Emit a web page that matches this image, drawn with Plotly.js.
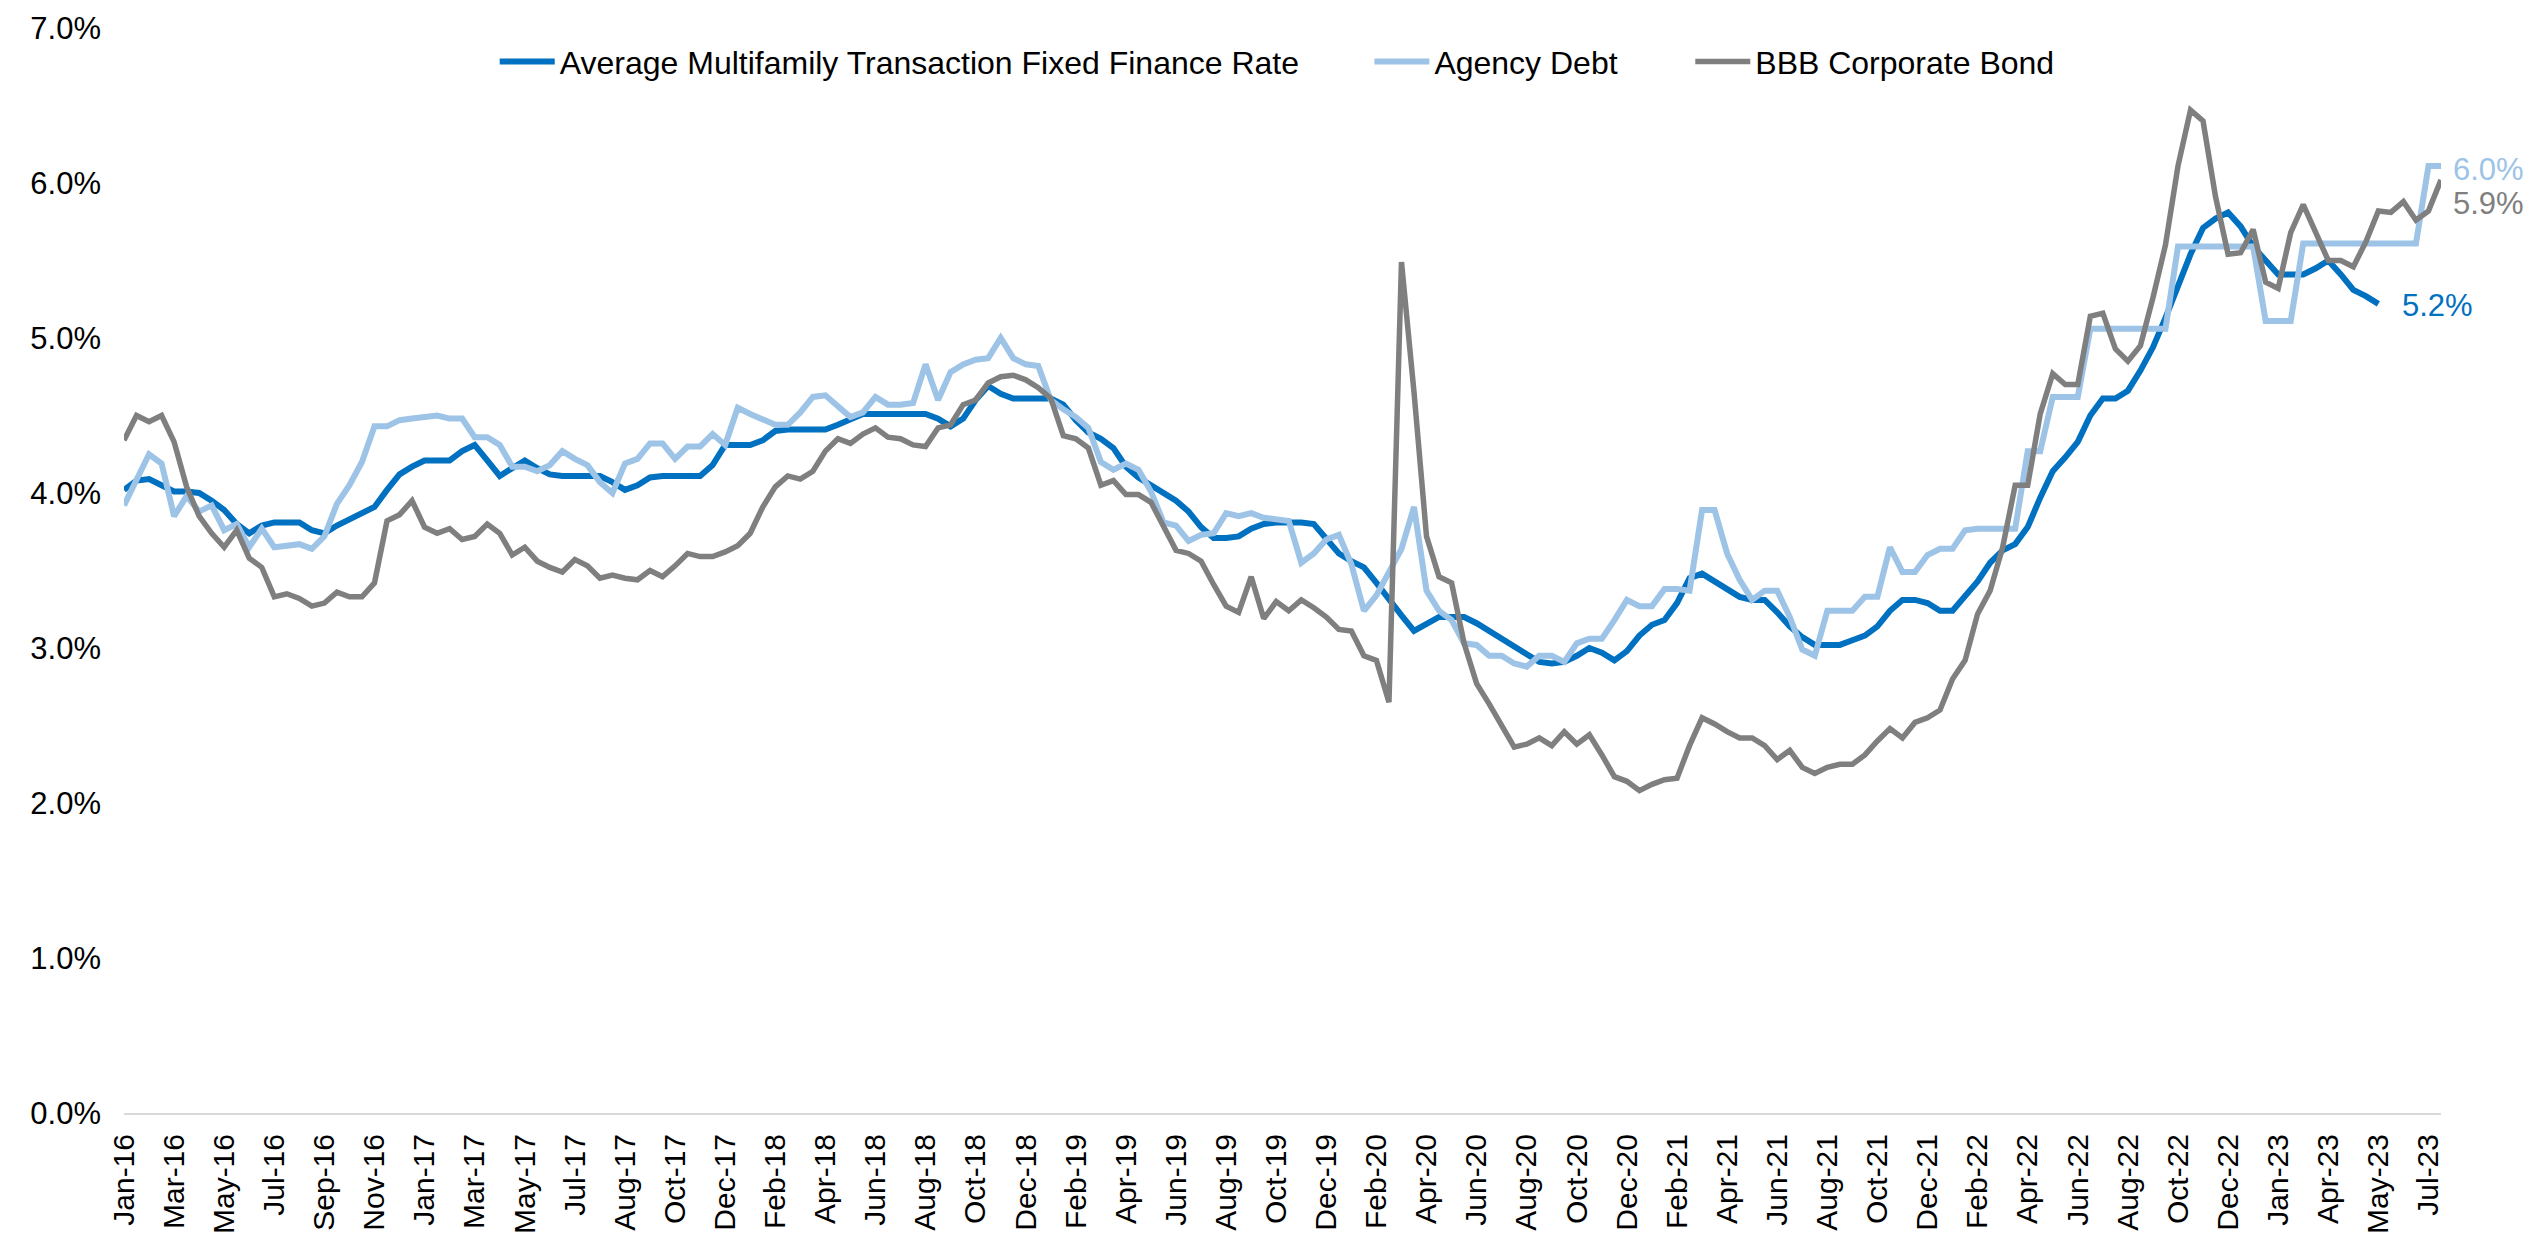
<!DOCTYPE html>
<html>
<head>
<meta charset="utf-8">
<script src="https://cdn.plot.ly/plotly-3.0.1.min.js"></script>
<style>
  html, body { margin: 0; padding: 0; background: #ffffff; }
  #chart { width: 2544px; height: 1236px; }
</style>
</head>
<body>
<div id="chart"></div>
<script>
// Category labels shown on the x axis (one every 4 data points)
const tickLabels = ["Jan-16","Mar-16","May-16","Jul-16","Sep-16","Nov-16","Jan-17","Mar-17","May-17","Jul-17","Aug-17","Oct-17","Dec-17","Feb-18","Apr-18","Jun-18","Aug-18","Oct-18","Dec-18","Feb-19","Apr-19","Jun-19","Aug-19","Oct-19","Dec-19","Feb-20","Apr-20","Jun-20","Aug-20","Oct-20","Dec-20","Feb-21","Apr-21","Jun-21","Aug-21","Oct-21","Dec-21","Feb-22","Apr-22","Jun-22","Aug-22","Oct-22","Dec-22","Jan-23","Apr-23","May-23","Jul-23"];
const pointsPerLabel = 4;

const seriesNames = ["Average Multifamily Transaction Fixed Finance Rate", "Agency Debt", "BBB Corporate Bond"];
const seriesColors = ["#0070C0", "#9DC3E6", "#7F7F7F"];
const endLabels = ["5.2%", "6.0%", "5.9%"];

// Values in percent
const multifamilyRate = [
  4.02,4.08,4.09,4.05, 4.01,4.01,4.00,3.95, 3.89,3.80,3.74,3.79, 3.81,3.81,3.81,3.76,
  3.74,3.79,3.83,3.87, 3.91,4.02,4.12,4.17, 4.21,4.21,4.21,4.27, 4.31,4.21,4.11,4.16,
  4.21,4.16,4.12,4.11, 4.11,4.11,4.11,4.07, 4.02,4.05,4.10,4.11, 4.11,4.11,4.11,4.18,
  4.31,4.31,4.31,4.34, 4.40,4.41,4.41,4.41, 4.41,4.44,4.48,4.51, 4.51,4.51,4.51,4.51,
  4.51,4.48,4.43,4.48, 4.60,4.69,4.64,4.61, 4.61,4.61,4.61,4.57, 4.47,4.39,4.35,4.29,
  4.17,4.10,4.05,4.00, 3.95,3.88,3.78,3.71, 3.71,3.72,3.77,3.80, 3.81,3.81,3.81,3.80,
  3.70,3.61,3.56,3.52, 3.42,3.31,3.21,3.11, 3.15,3.20,3.20,3.20, 3.16,3.11,3.06,3.01,
  2.95,2.91,2.90,2.91, 2.95,3.00,2.97,2.92, 2.98,3.08,3.15,3.18, 3.29,3.45,3.48,3.43,
  3.38,3.33,3.31,3.31, 3.23,3.14,3.07,3.02, 3.02,3.02,3.05,3.08, 3.14,3.24,3.31,3.31,
  3.29,3.24,3.24,3.33, 3.43,3.55,3.63,3.67, 3.78,3.97,4.14,4.23, 4.33,4.50,4.61,4.61,
  4.66,4.79,4.94,5.13, 5.34,5.54,5.71,5.77, 5.81,5.72,5.59,5.50, 5.41,5.41,5.41,5.45,
  5.50,5.41,5.31,5.27, 5.22,null,null,null, null,null
];

const agencyDebt = [
  3.92,4.08,4.25,4.19, 3.85,3.98,3.88,3.92, 3.76,3.80,3.65,3.77, 3.65,3.66,3.67,3.64,
  3.72,3.93,4.05,4.20, 4.43,4.43,4.47,4.48, 4.49,4.50,4.48,4.48, 4.36,4.36,4.31,4.17,
  4.17,4.14,4.18,4.27, 4.22,4.18,4.07,4.00, 4.19,4.22,4.32,4.32, 4.22,4.30,4.30,4.38,
  4.31,4.55,4.51,4.47, 4.44,4.44,4.52,4.62, 4.63,4.56,4.49,4.52, 4.62,4.57,4.57,4.58,
  4.83,4.60,4.78,4.83, 4.86,4.87,5.00,4.87, 4.83,4.82,4.60,4.54, 4.49,4.42,4.20,4.15,
  4.19,4.15,4.01,3.81, 3.79,3.69,3.73,3.74, 3.87,3.85,3.87,3.84, 3.83,3.82,3.55,3.61,
  3.70,3.73,3.54,3.24, 3.34,3.50,3.64,3.91, 3.37,3.24,3.18,3.03, 3.02,2.95,2.95,2.90,
  2.88,2.95,2.95,2.91, 3.03,3.06,3.06,3.18, 3.31,3.27,3.27,3.38, 3.38,3.37,3.89,3.89,
  3.61,3.44,3.31,3.37, 3.37,3.20,2.99,2.95, 3.24,3.24,3.24,3.33, 3.33,3.65,3.49,3.49,
  3.60,3.64,3.64,3.76, 3.77,3.77,3.77,3.77, 4.27,4.27,4.62,4.62, 4.62,5.06,5.06,5.06,
  5.06,5.06,5.06,5.06, 5.59,5.59,5.59,5.59, 5.59,5.59,5.59,5.11, 5.11,5.11,5.61,5.61,
  5.61,5.61,5.61,5.61, 5.61,5.61,5.61,5.61, 6.11,6.11
];

const bbbCorporate = [
  4.34,4.50,4.46,4.50, 4.33,4.04,3.85,3.74, 3.65,3.76,3.58,3.52, 3.33,3.35,3.32,3.27,
  3.29,3.36,3.33,3.33, 3.42,3.82,3.86,3.95, 3.78,3.74,3.77,3.70, 3.72,3.80,3.74,3.60,
  3.65,3.56,3.52,3.49, 3.57,3.53,3.45,3.47, 3.45,3.44,3.50,3.46, 3.53,3.61,3.59,3.59,
  3.62,3.66,3.74,3.91, 4.04,4.11,4.09,4.14, 4.27,4.35,4.32,4.38, 4.42,4.36,4.35,4.31,
  4.30,4.42,4.44,4.57, 4.60,4.71,4.75,4.76, 4.73,4.68,4.61,4.37, 4.35,4.29,4.05,4.08,
  3.99,3.99,3.94,3.78, 3.63,3.61,3.56,3.41, 3.27,3.23,3.46,3.19, 3.30,3.24,3.31,3.26,
  3.20,3.12,3.11,2.95, 2.92,2.65,5.49,4.65, 3.72,3.46,3.42,3.03, 2.77,2.64,2.50,2.36,
  2.38,2.42,2.37,2.46, 2.38,2.44,2.31,2.17, 2.14,2.08,2.12,2.15, 2.16,2.37,2.55,2.51,
  2.46,2.42,2.42,2.37, 2.28,2.34,2.23,2.19, 2.23,2.25,2.25,2.31, 2.40,2.48,2.42,2.52,
  2.55,2.60,2.80,2.92, 3.22,3.37,3.65,4.05, 4.05,4.51,4.77,4.70, 4.70,5.14,5.16,4.93,
  4.85,4.95,5.26,5.60, 6.11,6.47,6.40,5.91, 5.54,5.55,5.70,5.36, 5.32,5.68,5.86,5.67,
  5.50,5.50,5.46,5.62, 5.82,5.81,5.88,5.76, 5.82,6.02
];

const seriesValues = [multifamilyRate, agencyDebt, bbbCorporate];
const lineWidths = [6, 6, 5.5];
const legendIds = ["legend", "legend2", "legend3"];
const legendLeft = [0.160, 0.5375, 0.676]; // paper x of each legend entry

// category position of every data point (in label units)
const xPos = agencyDebt.map((_, k) => k / pointsPerLabel);

const traces = seriesValues.map((vals, s) => ({
  type: "scatter",
  mode: "lines",
  name: seriesNames[s],
  legend: legendIds[s],
  x: xPos,
  y: vals,
  line: { color: seriesColors[s], width: lineWidths[s] },
  connectgaps: false,
  hoverinfo: "skip"
}));

function lastIndex(arr) {
  for (let k = arr.length - 1; k >= 0; k--) if (arr[k] !== null) return k;
  return -1;
}

const baseFamily = "Liberation Sans, Arial, sans-serif";
const labelShifts = [ {x: 22, y: -2}, {x: 10, y: -4}, {x: 10, y: -24} ];
const annotations = seriesValues.map((vals, s) => {
  const k = lastIndex(vals);
  return {
    xref: "x", yref: "y",
    x: xPos[k], y: vals[k],
    text: endLabels[s],
    showarrow: false,
    xanchor: "left", yanchor: "middle",
    xshift: labelShifts[s].x, yshift: labelShifts[s].y,
    font: { family: baseFamily, size: 31, color: seriesColors[s] }
  };
});

const font = { family: baseFamily, size: 31, color: "#000000" };
const legendFont = { family: baseFamily, size: 32, color: "#000000" };

const layout = {
  width: 2544,
  height: 1236,
  margin: { l: 124, r: 103, t: 28, b: 123, pad: 0 },
  paper_bgcolor: "#ffffff",
  plot_bgcolor: "#ffffff",
  font: font,
  showlegend: true,
  xaxis: {
    range: [0, (agencyDebt.length - 1) / pointsPerLabel],
    tickmode: "array",
    tickvals: tickLabels.map((_, k) => k),
    ticktext: tickLabels,
    tickangle: -90,
    showgrid: false,
    zeroline: false,
    showline: true,
    linecolor: "#d9d9d9",
    linewidth: 2,
    ticks: "",
    ticklabelstandoff: 7,
    tickfont: { family: baseFamily, size: 30, color: "#000000" },
    fixedrange: true
  },
  yaxis: {
    range: [0, 7],
    tickmode: "linear",
    tick0: 0,
    dtick: 1,
    tickformat: ".1f",
    ticksuffix: "%",
    showgrid: false,
    zeroline: false,
    showline: false,
    ticks: "",
    ticklabelstandoff: 22,
    tickfont: { family: baseFamily, size: 31, color: "#000000" },
    fixedrange: true
  },
  annotations: annotations
};

legendIds.forEach((id, s) => {
  layout[id] = {
    orientation: "h",
    x: legendLeft[s], xanchor: "left",
    y: 0.969, yanchor: "middle",
    font: legendFont,
    itemwidth: 55,
    bgcolor: "rgba(0,0,0,0)",
    borderwidth: 0
  };
});

Plotly.newPlot("chart", traces, layout, { staticPlot: true, displayModeBar: false });
</script>
</body>
</html>
